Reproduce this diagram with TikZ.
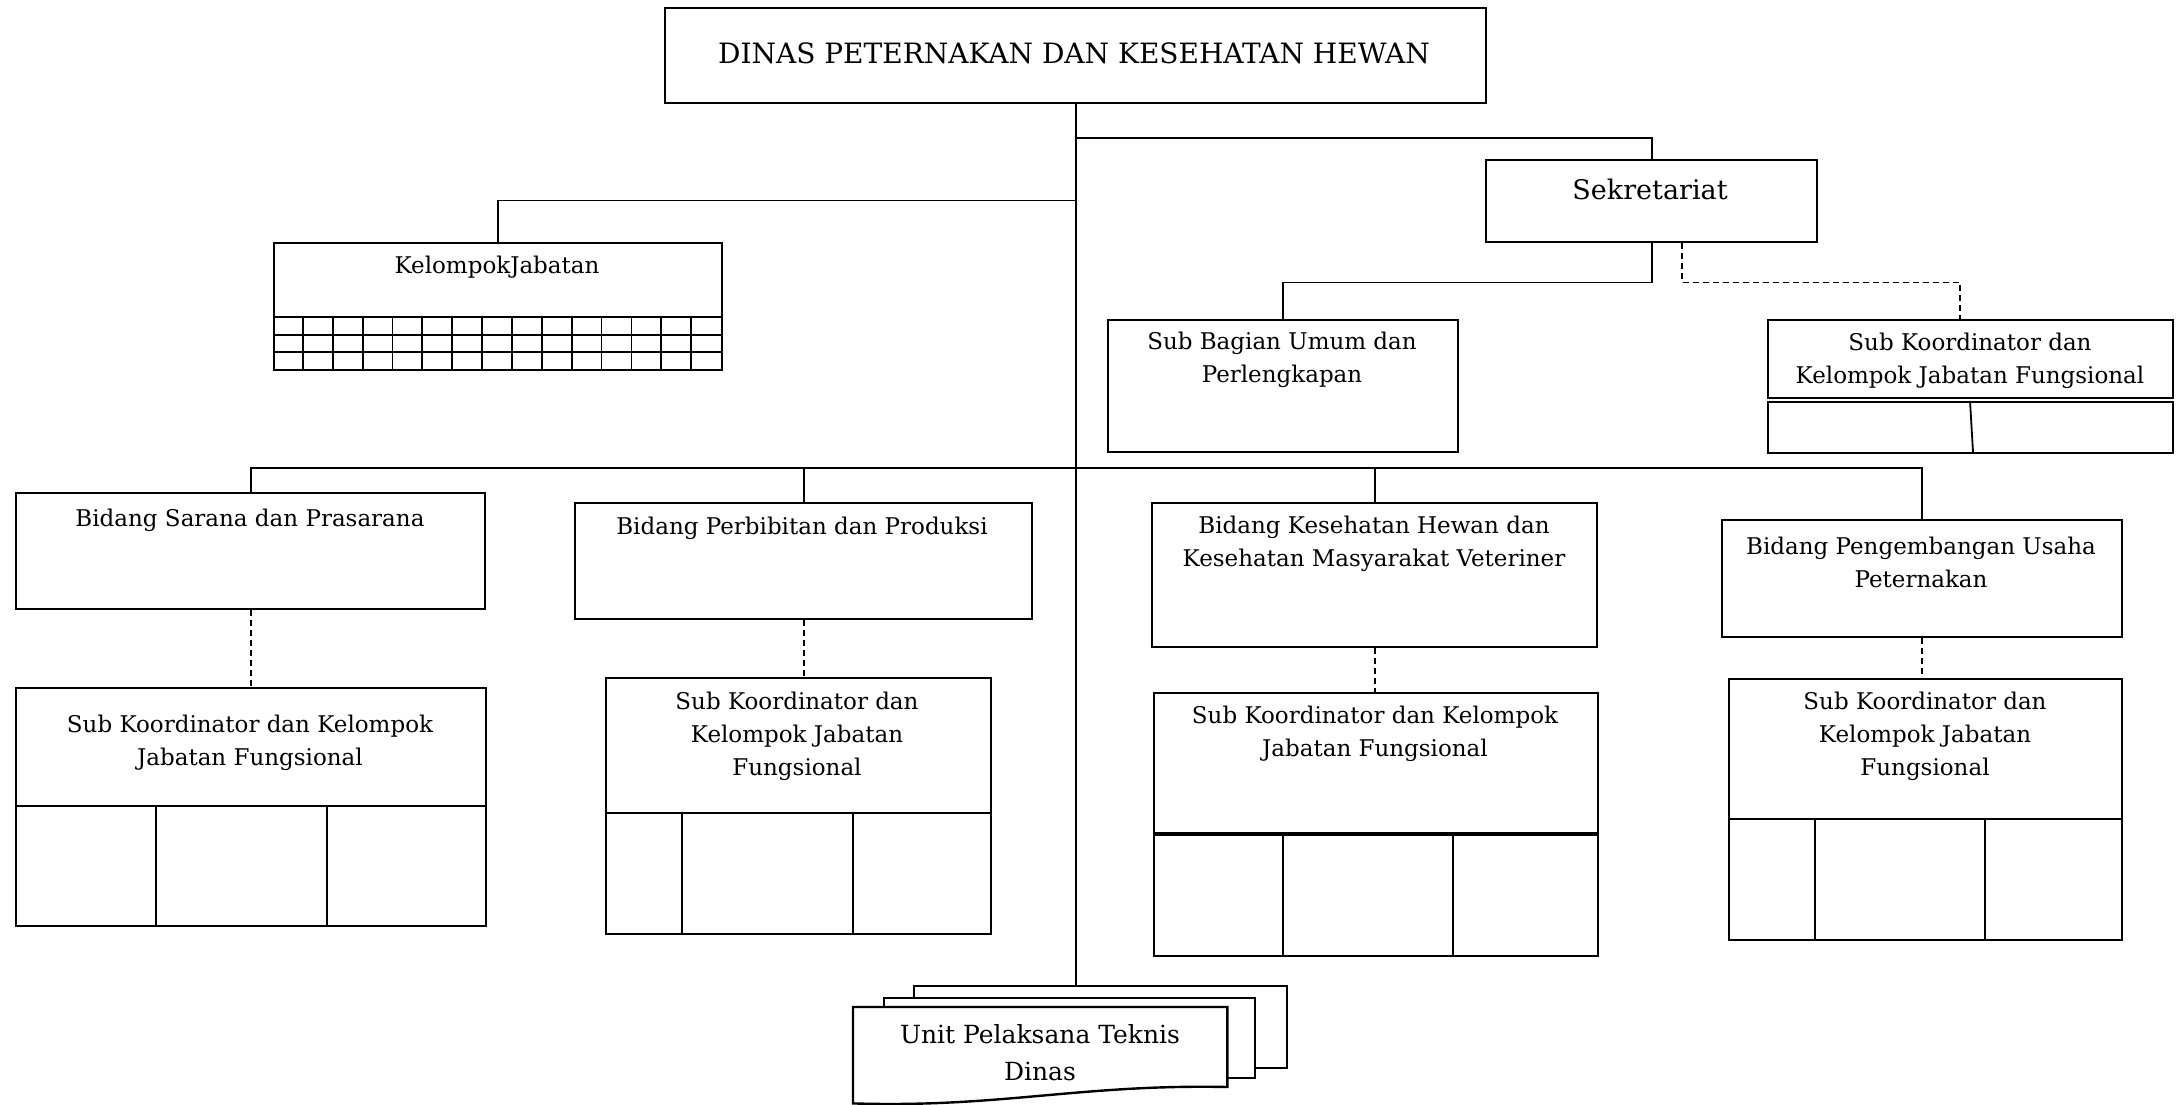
\documentclass[tikz,border=0pt]{standalone}
\usepackage{fontspec}
\setmainfont{DejaVu Serif}
\usetikzlibrary{calc}
\begin{document}
\begin{tikzpicture}[x=1pt,y=-1pt,
  box/.style={draw, line width=2.4pt, fill=white, inner sep=0pt, anchor=north west},
  link/.style={line width=1.8pt},
  dlink/.style={line width=1.8pt, dash pattern=on 6pt off 4pt},
  cell/.style={line width=1.8pt},
  txt/.style={align=center, inner sep=0pt, font=\fontsize{23}{33}\selectfont},
]
\useasboundingbox (0,0) rectangle (2176,1105);

% head office
\node[box, minimum width=821pt, minimum height=95pt] (dinas) at (664,7) {};
\node[txt, font=\fontsize{28}{33}\selectfont] (dinas-t) at (1074,53) {DINAS PETERNAKAN DAN KESEHATAN HEWAN};

% secretariat
\node[box, minimum width=331pt, minimum height=82pt] (sek) at (1485,159) {};
\node[txt, font=\fontsize{27}{33}\selectfont] (sek-t) at (1650,189) {Sekretariat};

% functional group with grid
\node[box, minimum width=448pt, minimum height=127pt] (kj) at (273,242) {};
\node[txt] (kj-t) at (497,267) {KelompokJabatan};
\foreach \yy in {317,335,352} \draw[cell] (273,\yy) -- (721,\yy);
\foreach \i in {1,...,14} \draw[cell] ({273+\i*29.87},317) -- ({273+\i*29.87},369);

% sub-units of the secretariat
\node[box, minimum width=350pt, minimum height=132pt] (subum) at (1107,319) {};
\node[txt] (subum-t) at (1282,360) {Sub Bagian Umum dan\\Perlengkapan};
\node[box, minimum width=405pt, minimum height=78pt] (skr) at (1767,319) {};
\node[txt] (skr-t) at (1970,361) {Sub Koordinator dan\\Kelompok Jabatan Fungsional};
\node[box, minimum width=405pt, minimum height=51pt] (skr-b) at (1767,401) {};
\draw[cell] (1970,401) -- (1973,452);

% divisions
\node[box, minimum width=469pt, minimum height=116pt] (sarana) at (15,492) {};
\node[txt] (sarana-t) at (250,520) {Bidang Sarana dan Prasarana};
\node[box, minimum width=457pt, minimum height=116pt] (perb) at (574,502) {};
\node[txt] (perb-t) at (802,528) {Bidang Perbibitan dan Produksi};
\node[box, minimum width=445pt, minimum height=144pt] (kes) at (1151,502) {};
\node[txt] (kes-t) at (1374,544) {Bidang Kesehatan Hewan dan\\Kesehatan Masyarakat Veteriner};
\node[box, minimum width=400pt, minimum height=117pt] (peng) at (1721,519) {};
\node[txt] (peng-t) at (1921,562) {Bidang Pengembangan Usaha\\Peternakan};

% coordinator groups under the divisions
\node[box, minimum width=470pt, minimum height=118pt] (sk1) at (15,687) {};
\node[txt] (sk1-t) at (250,743) {Sub Koordinator dan Kelompok\\Jabatan Fungsional};
\node[box, minimum width=470pt, minimum height=120pt] (sk1-b) at (15,805) {};
\foreach \xx in {156,327} \draw[cell] (\xx,805) -- (\xx,925);

\node[box, minimum width=385pt, minimum height=135pt] (sk2) at (605,677) {};
\node[txt] (sk2-t) at (797,736) {Sub Koordinator dan\\Kelompok Jabatan\\Fungsional};
\node[box, minimum width=385pt, minimum height=121pt] (sk2-b) at (605,812) {};
\foreach \xx in {682,853} \draw[cell] (\xx,812) -- (\xx,933);

\node[box, minimum width=444pt, minimum height=140pt] (sk3) at (1153,692) {};
\node[txt] (sk3-t) at (1375,734) {Sub Koordinator dan Kelompok\\Jabatan Fungsional};
\node[box, minimum width=444pt, minimum height=121pt] (sk3-b) at (1153,834) {};
\foreach \xx in {1283,1453} \draw[cell] (\xx,834) -- (\xx,955);

\node[box, minimum width=393pt, minimum height=140pt] (sk4) at (1728,678) {};
\node[txt] (sk4-t) at (1925,736) {Sub Koordinator dan\\Kelompok Jabatan\\Fungsional};
\node[box, minimum width=393pt, minimum height=121pt] (sk4-b) at (1728,818) {};
\foreach \xx in {1815,1985} \draw[cell] (\xx,818) -- (\xx,939);

% technical units (stacked documents)
\node[box, minimum width=373pt, minimum height=82pt] (upt3) at (913,985) {};
\node[box, minimum width=371pt, minimum height=80pt] (upt2) at (883,997) {};
\node[inner sep=0pt, minimum width=374pt, minimum height=96pt, anchor=north west] (upt) at (853,1007) {};
\draw[line width=2.4pt, fill=white] (upt.north west) -- (upt.north east) -- ($(upt.north east)+(0,80)$)
  .. controls (1080,1084) and (1000,1108) .. (upt.south west) -- cycle;
\node[txt, font=\fontsize{25}{37}\selectfont] (upt-t) at (1040,1053) {Unit Pelaksana Teknis\\Dinas};

% connectors
\draw[link] (dinas.south) -- (dinas.south |- upt3.north);
\draw[link] ($(dinas.south)+(0,34)$) -| (sek.north);
\draw[link] ($(dinas.south)+(0,96)$) -| (kj.north);
\draw[link] (sek.south) -- ++(0,39) -| (subum.north);
\draw[dlink] ($(sek.south)+(30,0)$) -- ++(0,39) -| ($(skr.north)+(-11,0)$);
\coordinate (bus) at ($(sarana.north)+(0,-24)$);
\draw[link] (sarana.north) -- (bus) -| (peng.north);
\draw[link] (perb.north) -- (perb.north |- bus);
\draw[link] (kes.north) -- (kes.north |- bus);
\draw[dlink] (sarana.south) -- (sarana.south |- sk1.north);
\draw[dlink] (perb.south) -- (perb.south |- sk2.north);
\draw[dlink] (kes.south) -- (kes.south |- sk3.north);
\draw[dlink] (peng.south) -- (peng.south |- sk4.north);
\end{tikzpicture}
\end{document}
